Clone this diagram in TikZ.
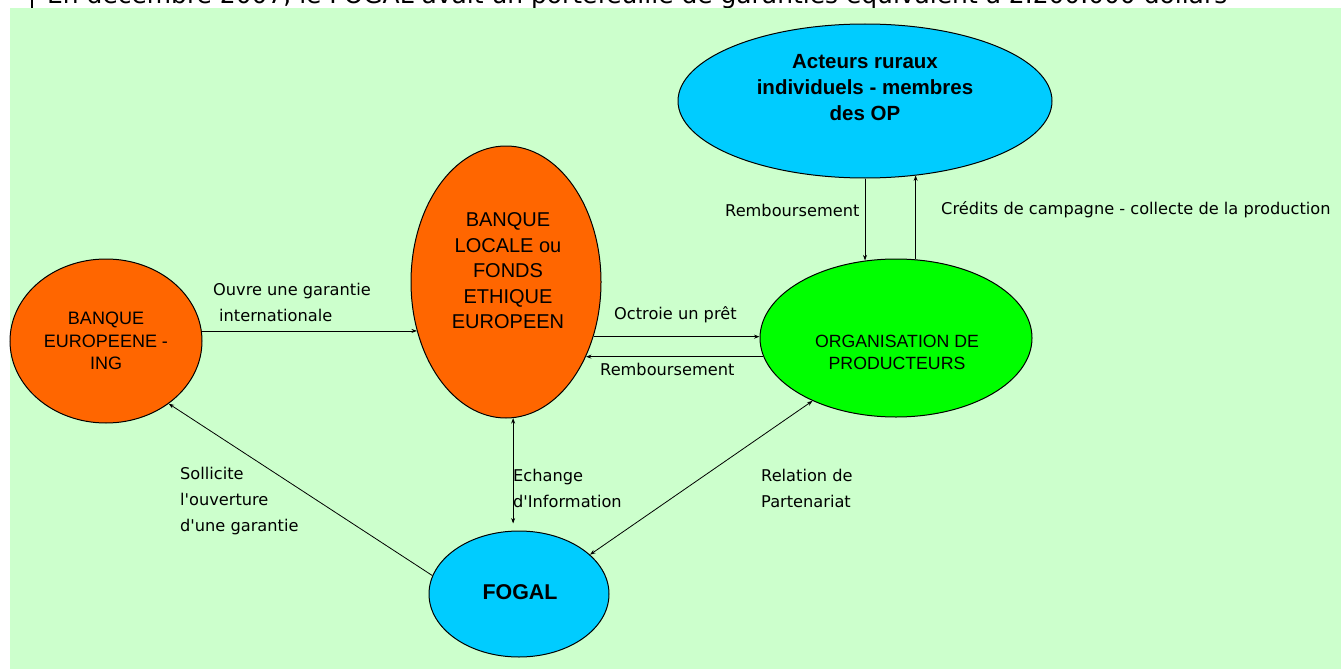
\documentclass[tikz,border=0pt]{standalone}
\usepackage{fontspec}
\usetikzlibrary{shapes.geometric,arrows.meta}
\newfontfamily\arialf{Liberation Sans}
\newfontfamily\tahf{DejaVu Sans}
\definecolor{bgG}{HTML}{CCFFCC}
\definecolor{orangeF}{HTML}{FF6600}
\definecolor{cyanF}{HTML}{00CCFF}
\definecolor{greenF}{HTML}{00FF00}
\begin{document}
\begin{tikzpicture}[x=1pt,y=-1pt,
  ell/.style={ellipse,draw=black,line width=1pt,inner sep=0pt},
  arr/.style={line width=0.8pt,-{Stealth[length=5.5pt,width=4pt]}},
  darr/.style={line width=0.8pt,{Stealth[length=5.5pt,width=4pt]}-{Stealth[length=5.5pt,width=4pt]}},
  lbl/.style={anchor=west,align=left,inner sep=0pt,font=\tahf\fontsize{16.2}{26}\selectfont},
  ntxt/.style={align=center,inner sep=0pt}]
\useasboundingbox (0,0) rectangle (1341,669);
% cut-off heading line
\begin{scope}
  \clip (0,0) rectangle (1341,669);
  \node[anchor=base west,inner sep=0pt] (head) at (47,4)
    {\resizebox{1180pt}{!}{\tahf\fontsize{20}{24}\selectfont En décembre 2007, le FOGAL avait un portefeuille de garanties équivalent à 2.200.000 dollars}};
\end{scope}
\draw[line width=1.6pt] (32,0) -- (32,11);
% background
\fill[bgG] (10,8) rectangle (1341,669);

% ellipses
\node[ell,fill=orangeF,minimum width=192pt,minimum height=164pt] (be) at (106,341) {};
\node[ell,fill=orangeF,minimum width=190pt,minimum height=272pt] (bl) at (506,282) {};
\node[ell,fill=cyanF,minimum width=374pt,minimum height=154pt] (ac) at (865,101) {};
\node[ell,fill=greenF,minimum width=272pt,minimum height=158pt] (og) at (896,338) {};
\node[ell,fill=cyanF,minimum width=180pt,minimum height=126pt] (fg) at (519,594) {};

% ellipse texts
\node[ntxt,font=\arialf\fontsize{18}{22.5}\selectfont] (beT) at (106,341) {BANQUE\\EUROPEENE -\\ING};
\node[ntxt,font=\arialf\fontsize{20}{25.5}\selectfont] (blT) at (508,271) {BANQUE\\LOCALE ou\\FONDS\\ETHIQUE\\EUROPEEN};
\node[ntxt,font=\arialf\bfseries\fontsize{20.5}{26}\selectfont] (acT) at (865,88) {Acteurs ruraux\\individuels - membres\\des OP};
\node[ntxt,font=\arialf\fontsize{17.7}{22}\selectfont] (ogT) at (897,352) {ORGANISATION DE\\PRODUCTEURS};
\node[ntxt,font=\arialf\bfseries\fontsize{21.4}{26}\selectfont] (fgT) at (520,592) {FOGAL};

% connectors
\draw[arr] (be.6) -- (be.6 -| bl.209);
\draw[arr] (bl.-32.3) -- (bl.-32.3 -| og.west);
\draw[arr] (og.188.2) -- (og.188.2 -| bl.-43.4);
\draw[arr] (ac.south) -- (ac.south |- og.111.3);
\draw[arr] (og.76.3) -- (og.76.3 |- ac.-55.3);
\draw[arr] (fg.168.8) -- (be.315.9);
\draw[darr,shorten >=7pt] (bl.-87.5) -- (bl.-87.5 |- fg.north);
\draw[darr] (og.217.2) -- (fg.29.3);

% labels
\node[lbl] (l1) at (213,302.5) {Ouvre une garantie\\\hspace*{6pt}internationale};
\node[lbl] (l2) at (614,315) {Octroie un prêt};
\node[lbl] (l3) at (600,369) {Remboursement};
\node[lbl] (l4) at (725,210) {Remboursement};
\node[lbl] (l5) at (941,210) {Crédits de campagne - collecte de la production};
\node[lbl] (l6) at (513,488) {Echange\\d'Information};
\node[lbl] (l7) at (761,488) {Relation de\\Partenariat};
\node[lbl] (l8) at (180,501) {Sollicite\\l'ouverture\\d'une garantie};
\end{tikzpicture}
\end{document}
